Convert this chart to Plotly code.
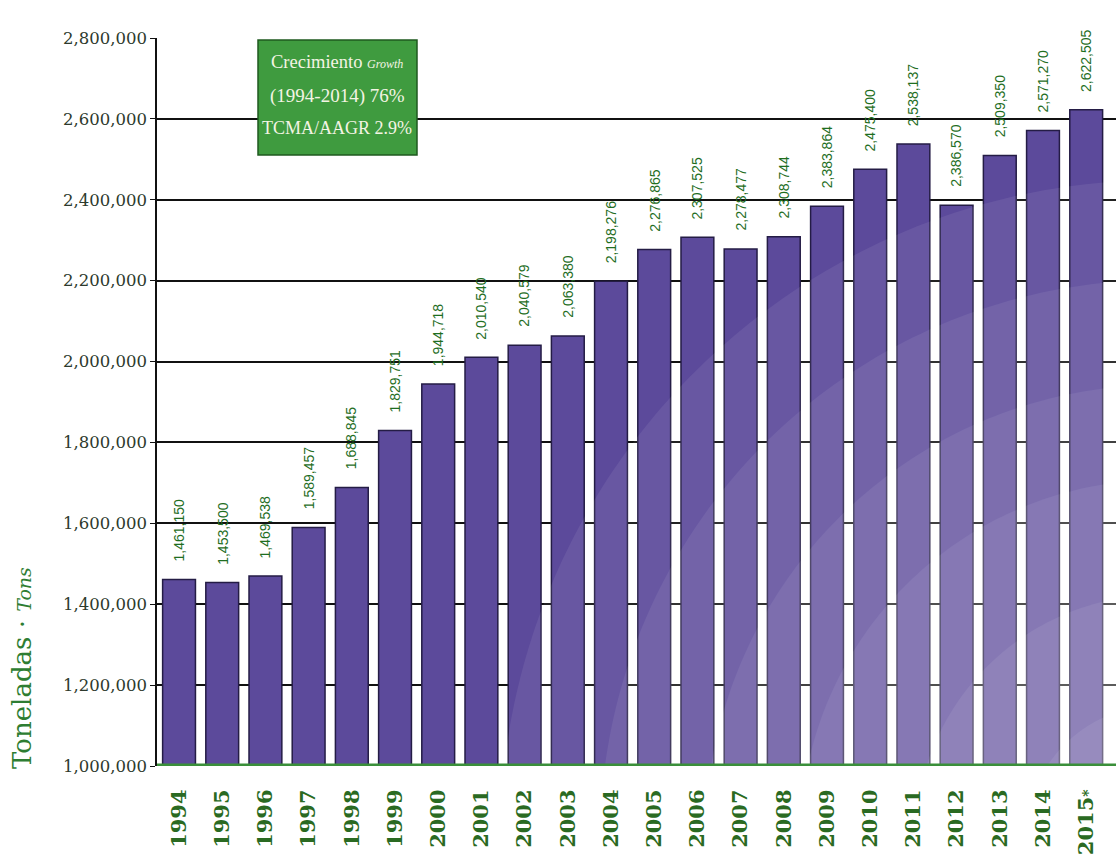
import math
import plotly.graph_objects as go

years = ["1994", "1995", "1996", "1997", "1998", "1999", "2000", "2001", "2002", "2003",
         "2004", "2005", "2006", "2007", "2008", "2009", "2010", "2011", "2012", "2013",
         "2014", "2015*"]
tons = [1461150, 1453500, 1469538, 1589457, 1688845, 1829751, 1944718, 2010540, 2040579,
        2063380, 2198276, 2276865, 2307525, 2278477, 2308744, 2383864, 2475400, 2538137,
        2386570, 2509350, 2571270, 2622505]
y_ticks = [1000000, 1200000, 1400000, 1600000, 1800000, 2000000, 2200000, 2400000,
           2600000, 2800000]

W, H = 1116, 858
ML, MR, MT, MB = 157, 0, 38, 92
PW, PH = W - ML - MR, H - MT - MB

BAR = "#5c4a9b"
GREEN_TXT = "#1f6e1f"

fig = go.Figure()
fig.add_trace(go.Bar(
    x=list(range(len(years))), y=tons,
    marker=dict(color=BAR, line=dict(color="#241c45", width=1.5)),
    width=0.76, hoverinfo="skip", showlegend=False,
))

annotations = []
for i, v in enumerate(tons):
    annotations.append(dict(
        x=i, y=v, xref="x", yref="y", text=f"{v:,}", showarrow=False,
        textangle=-90, yanchor="bottom", xanchor="center", yshift=16,
        font=dict(family="Liberation Sans", size=14, color=GREEN_TXT),
    ))

# growth box text
box_lines = [
    ("Crecimiento <i><span style='font-size:12px'>Growth</span></i>", 62, 18.5),
    ("(1994-2014) 76%", 96, 19),
    ("TCMA/AAGR 2.9%", 128, 18),
]
for txt, py, fs in box_lines:
    annotations.append(dict(
        x=(337 - ML) / PW, y=(H - MB - py) / PH, xref="paper", yref="paper",
        text=txt, showarrow=False, xanchor="center", yanchor="middle",
        font=dict(family="Liberation Serif", size=fs, color="#f4f4e4"),
    ))

# y axis title
annotations.append(dict(
    x=(22 - ML) / PW, y=(H - MB - 668) / PH, xref="paper", yref="paper",
    text="Toneladas · <i><span style='font-size:19px'>Tons</span></i>", showarrow=False,
    textangle=-90, xanchor="center", yanchor="middle",
    font=dict(family="DejaVu Serif", size=26, color="#2e7d32"),
))

shapes = []
# light radial glow over lower-right bars
cx, cy = 1160, 840
for r in [135, 245, 360, 455, 560, 660]:
    pts = []
    n = 90
    dy_b = cy - (H - MB)
    if r <= dy_b:
        continue
    ax = cx - math.sqrt(r * r - dy_b * dy_b)
    a0 = math.atan2(-dy_b, ax - cx)
    dx_r = W - cx
    if r > abs(dx_r):
        ry = cy - math.sqrt(r * r - dx_r * dx_r)
        a1 = math.atan2(ry - cy, dx_r)
        end_pts = [(1.0, 0.0)]
    else:
        a1 = -math.pi / 2
        end_pts = []
    for k in range(n + 1):
        a = a0 + (a1 - a0) * k / n
        px = cx + r * math.cos(a)
        py = cy + r * math.sin(a)
        pts.append(((px - ML) / PW, (H - MB - py) / PH))
    pts += end_pts
    path = "M " + " L ".join(f"{x:.5f},{y:.5f}" for x, y in pts) + " Z"
    shapes.append(dict(type="path", path=path, xref="paper", yref="paper",
                       fillcolor="rgba(255,255,255,0.075)", line=dict(width=0), layer="above"))

# green baseline
shapes.append(dict(type="line", xref="paper", yref="y", x0=0, x1=1, y0=1000000, y1=1000000,
                   line=dict(color="#3a8f3a", width=5), layer="above"))
# growth box
shapes.append(dict(type="rect", xref="paper", yref="paper",
                   x0=(258 - ML) / PW, x1=(417 - ML) / PW,
                   y0=(H - MB - 155) / PH, y1=(H - MB - 40) / PH,
                   fillcolor="#3f9b3f", line=dict(color="#1f5a1f", width=1.5), layer="above"))

tick_text = []
for y in years:
    if y.endswith("*"):
        tick_text.append(f"<b>{y[:-1]}<span style='font-size:14px'>*</span></b>")
    else:
        tick_text.append(f"<b>{y}</b>")

fig.update_layout(
    width=W, height=H,
    margin=dict(l=ML, r=MR, t=MT, b=MB),
    paper_bgcolor="white", plot_bgcolor="white",
    xaxis=dict(
        range=[-0.51, 21.69], tickmode="array", tickvals=list(range(len(years))),
        ticktext=tick_text, tickangle=-90,
        tickfont=dict(family="DejaVu Serif", size=21, color="#2a6a22"),
        showgrid=False, zeroline=False, showline=False,
        ticks="outside", ticklen=14, tickcolor="rgba(0,0,0,0)",
    ),
    yaxis=dict(
        range=[1000000, 2800000], tickmode="array", tickvals=y_ticks,
        ticktext=[f"{v:,}" for v in y_ticks],
        tickfont=dict(family="DejaVu Serif", size=16.5, color="#2d3a2d"),
        showgrid=True, gridcolor="#111111", gridwidth=1.5,
        showline=True, linecolor="#111111", linewidth=1.5,
        ticks="outside", ticklen=5, tickcolor="#111111", zeroline=False,
    ),
    annotations=annotations, shapes=shapes,
)

fig.write_html("out.html")
